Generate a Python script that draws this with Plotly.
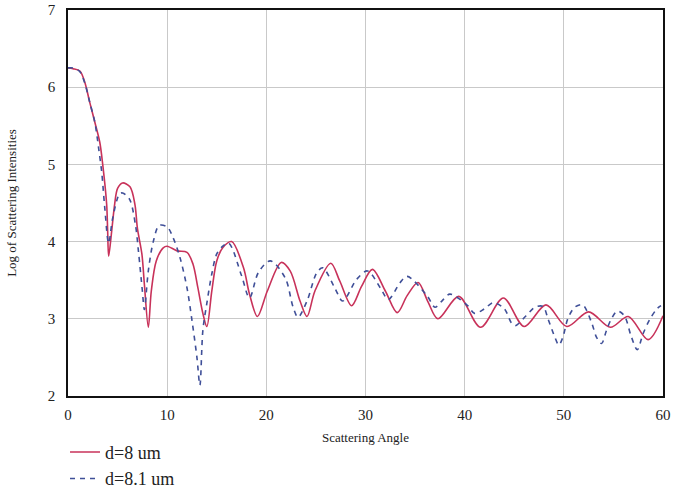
import plotly.graph_objects as go

# Scattering angle (degrees) and log scattering intensity, d = 8 um
angle_d8 = [0, 0.5, 1.2, 1.7, 2.2, 2.7, 3.2, 3.5, 3.9, 4.0, 4.1, 4.4, 4.7, 5.0, 5.5,
            6.25, 6.75, 7.0, 7.45, 7.7, 8.1, 8.4, 8.9, 9.6, 10.0, 11.0, 12.0, 12.6,
            13.1, 13.6, 14.0, 14.5, 15.0, 15.6, 16.5, 17.7, 18.3, 19.1, 20.1, 21.5,
            22.4, 23.4, 24.1, 24.9, 26.5, 27.4, 28.6, 29.6, 30.7, 32.0, 33.2, 34.2,
            35.3, 36.3, 37.3, 39.4, 41.6, 43.9, 46.0, 48.2, 50.3, 52.5, 54.7, 56.5,
            58.5, 60]
log_i_d8 = [6.25, 6.24, 6.21, 6.06, 5.8, 5.55, 5.29, 5.0, 4.48, 4.13, 3.81, 4.13, 4.48,
            4.69, 4.76, 4.71, 4.48, 4.17, 3.84, 3.45, 2.89, 3.36, 3.75, 3.92, 3.94, 3.88,
            3.86, 3.71, 3.40, 3.07, 2.90, 3.36, 3.75, 3.92, 4.0, 3.66, 3.32, 3.03, 3.36,
            3.73, 3.62, 3.23, 3.03, 3.36, 3.72, 3.49, 3.17, 3.42, 3.64, 3.36, 3.08, 3.30,
            3.47, 3.22, 3.0, 3.29, 2.89, 3.27, 2.90, 3.18, 2.90, 3.09, 2.89, 3.03, 2.73,
            3.04]

# d = 8.1 um
angle_d81 = [0, 0.5, 1.2, 1.7, 2.2, 2.7, 3.1, 3.4, 3.7, 4.1, 4.5, 5.2, 5.5, 6.2, 6.8,
             7.1, 7.5, 7.7, 8.1, 8.6, 9.2, 10.0, 10.6, 11.3, 12.0, 12.5, 13.0, 13.3,
             13.6, 14.0, 14.5, 15.0, 15.6, 16.2, 17.5, 18.3, 19.2, 20.4, 21.9, 22.7,
             23.2, 24.1, 25.1, 25.7, 26.9, 27.7, 29.1, 30.2, 31.5, 32.3, 33.5, 34.2,
             36.2, 37.0, 37.7, 38.5, 40.3, 41.0, 42.0, 42.9, 44.0, 44.7, 45.1, 46.2,
             47.1, 47.9, 48.4, 49.1, 49.5, 49.9, 50.4, 51.1, 51.9, 52.8, 53.3, 53.8,
             54.3, 54.8, 55.4, 56.1, 56.8, 57.4, 58.0, 58.7, 59.4, 59.8]
log_i_d81 = [6.25, 6.25, 6.2, 6.05, 5.8, 5.55, 5.2, 4.9, 4.45, 3.98, 4.3, 4.62, 4.63,
             4.55, 4.22, 3.88, 3.36, 3.12, 3.62, 4.0, 4.21, 4.19, 4.05, 3.79, 3.40, 2.98,
             2.5, 2.14, 2.85, 3.2, 3.58, 3.84, 3.94, 3.98, 3.56, 3.27, 3.6, 3.75, 3.53,
             3.15, 3.02, 3.23, 3.6, 3.66, 3.4, 3.23, 3.51, 3.62, 3.4, 3.25, 3.47, 3.55,
             3.30, 3.15, 3.23, 3.32, 3.17, 3.07, 3.13, 3.21, 3.13, 2.95, 2.91, 3.04, 3.15,
             3.16, 3.0, 2.76, 2.66, 2.76, 3.0, 3.15, 3.18, 2.95, 2.76, 2.68, 2.85, 3.0,
             3.1, 3.04, 2.77, 2.6, 2.81, 3.0, 3.13, 3.17]

x_ticks = [0, 10, 20, 30, 40, 50, 60]
y_ticks = [2, 3, 4, 5, 6, 7]

serif = "Liberation Serif, Times New Roman, serif"

fig = go.Figure()
fig.add_trace(go.Scatter(
    x=angle_d8, y=log_i_d8, mode="lines", name="d=8 um",
    line=dict(color="#c8325a", width=1.6, shape="spline", smoothing=0.9),
    legendgroup="a",
))
fig.add_trace(go.Scatter(
    x=angle_d81, y=log_i_d81, mode="lines", name="d=8.1 um",
    line=dict(color="#3f4f98", width=1.6, dash="5px,5px", shape="spline", smoothing=0.9),
    legendgroup="b",
))

axis_common = dict(
    showline=True, linecolor="#111111", linewidth=1.5, mirror=True,
    showgrid=True, gridcolor="#c9c9c9", gridwidth=1,
    zeroline=False, ticks="", automargin=False,
    tickfont=dict(family=serif, size=15, color="#222222"),
    title_font=dict(family=serif, size=13, color="#222222"),
)

fig.update_xaxes(range=[0, 60], tickvals=x_ticks, ticklabelstandoff=4,
                 title_text="Scattering Angle", title_standoff=11, **axis_common)
fig.update_yaxes(range=[2, 7], tickvals=y_ticks, ticklabelstandoff=8,
                 title_text="Log of Scattering Intensities", title_standoff=28, **axis_common)

fig.update_layout(
    width=675, height=492,
    margin=dict(l=68, r=12, t=10, b=96, autoexpand=False),
    paper_bgcolor="white", plot_bgcolor="white",
    font=dict(family=serif, color="#222222"),
    showlegend=True,
    legend=dict(
        x=-0.005, y=-0.098, xanchor="left", yanchor="top",
        font=dict(family=serif, size=18, color="#222222"),
        tracegroupgap=0, traceorder="grouped",
        bgcolor="rgba(0,0,0,0)", itemwidth=30,
    ),
)

fig.write_html("out.html")
